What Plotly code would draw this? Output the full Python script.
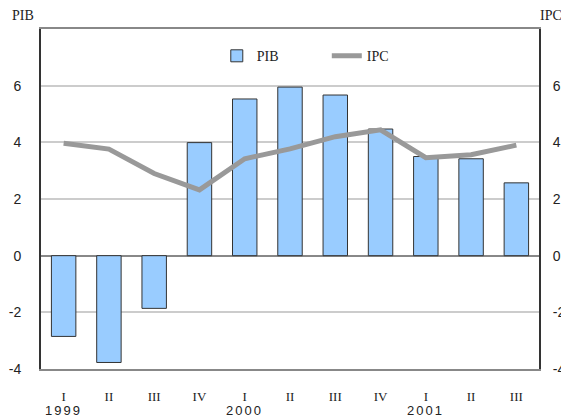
"""PIB vs IPC quarterly chart."""

import plotly.graph_objects as go

quarters = ["I", "II", "III", "IV", "I", "II", "III", "IV", "I", "II", "III"]
years = ["1999", "", "", "", "2000", "", "", "", "2001", "", ""]
pib = [-2.85, -3.77, -1.86, 3.99, 5.53, 5.95, 5.67, 4.47, 3.5, 3.42, 2.57]
ipc = [3.97, 3.76, 2.9, 2.32, 3.42, 3.77, 4.2, 4.44, 3.46, 3.56, 3.9]
yticks = [-4, -2, 0, 2, 4, 6]
ylabels = ["-4", "-2", "0", "2", "4", "6"]

SERIF = "Liberation Serif"
SANS = "Liberation Sans"

# the page body has an 8px margin, so the figure is drawn 8px smaller
x = list(range(len(quarters)))

fig = go.Figure()
fig.add_trace(go.Bar(
    x=x, y=pib, name="PIB", width=0.54,
    marker=dict(color="#99CCFF", line=dict(color="#333333", width=1)),
))
fig.add_trace(go.Scatter(
    x=x, y=ipc, name="IPC", mode="lines", yaxis="y2",
    line=dict(color="#999999", width=5),
))

annotations = [
    dict(text="PIB", xref="paper", yref="paper", x=0, y=1.0, xshift=-31,
         xanchor="left", yanchor="bottom", yshift=4, showarrow=False,
         font=dict(family=SERIF, size=14)),
    dict(text="IPC", xref="paper", yref="paper", x=1.0, y=1.0, xshift=-1,
         xanchor="left", yanchor="bottom", yshift=4, showarrow=False,
         font=dict(family=SERIF, size=14)),
]
for i, yr in enumerate(years):
    if yr:
        annotations.append(dict(
            text=f'<span style="letter-spacing:2px">{yr}</span>',
            xref="x", x=i, yref="paper", y=0, yshift=-41,
            xanchor="center", yanchor="middle", showarrow=False,
            font=dict(family=SANS, size=13),
        ))

fig.update_layout(
    width=561, height=409,
    margin=dict(l=33, r=30, t=21, b=48),
    paper_bgcolor="white", plot_bgcolor="white",
    font=dict(family=SANS, size=14, color="#222222"),
    showlegend=True,
    legend=dict(
        orientation="h", x=0.353, xanchor="left", y=0.92, yanchor="middle",
        font=dict(family=SERIF, size=14), bgcolor="rgba(0,0,0,0)",
        entrywidth=65, entrywidthmode="pixels",
    ),
    xaxis=dict(
        range=[-0.5, 10.5], tickvals=x, ticktext=quarters,
        tickfont=dict(family=SERIF, size=13), automargin=False,
        showgrid=False, showline=True, linecolor="#888888", linewidth=2,
        mirror=True, ticks="", ticklabelstandoff=14,
    ),
    yaxis=dict(
        range=[-4, 8], tickvals=yticks, ticktext=ylabels,
        showgrid=True, gridcolor="#cccccc",
        gridwidth=1.5, zeroline=True, zerolinecolor="#888888", zerolinewidth=2,
        showline=True, linecolor="#333333", linewidth=2, ticks="",
        ticklabelstandoff=15, tickfont=dict(size=14), automargin=False,
    ),
    yaxis2=dict(
        range=[-4, 8], tickvals=yticks, ticktext=ylabels,
        overlaying="y", side="right",
        showgrid=False, zeroline=False, automargin=False,
        showline=True, linecolor="#333333", linewidth=2, ticks="",
        ticklabelstandoff=9, tickfont=dict(size=14),
    ),
    annotations=annotations,
)

fig.write_html("out.html")
